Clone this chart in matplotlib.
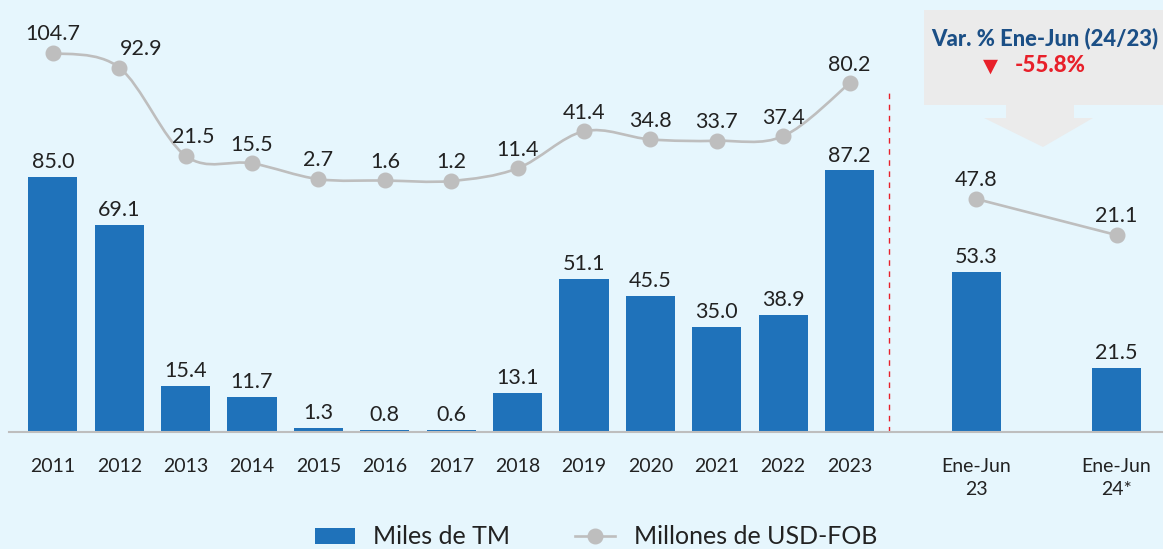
import matplotlib.pyplot as plt
import numpy as np
from matplotlib.path import Path
from matplotlib.patches import PathPatch, Rectangle, Polygon
from matplotlib.lines import Line2D

plt.rcParams["font.family"] = ["Lato", "DejaVu Sans"]

years = ["2011", "2012", "2013", "2014", "2015", "2016", "2017",
         "2018", "2019", "2020", "2021", "2022", "2023"]
tm_years = [85.0, 69.1, 15.4, 11.7, 1.3, 0.8, 0.6, 13.1, 51.1, 45.5, 35.0, 38.9, 87.2]
usd_years = [104.7, 92.9, 21.5, 15.5, 2.7, 1.6, 1.2, 11.4, 41.4, 34.8, 33.7, 37.4, 80.2]

periods = ["Ene-Jun\n23", "Ene-Jun\n24*"]
tm_periods = [53.3, 21.5]
usd_periods = [47.8, 21.1]

var_label = "Var. % Ene-Jun (24/23)"
var_value = "-55.8%"

BG = "#E6F6FD"
BLUE = "#1F72BA"
GREY = "#BEBEBE"
TXT = "#222222"

fig = plt.figure(figsize=(11.63, 5.49), dpi=100, facecolor=BG)
ax = fig.add_axes([9 / 1163, 117 / 549, 1 - 9 / 1163, 432 / 549])
ax.set_facecolor(BG)

x_years = np.arange(len(years), dtype=float)
x_periods = np.array([13.91, 16.02])
xlim = (-0.66, 16.72)

ax.bar(x_years, tm_years, width=0.74, color=BLUE, zorder=2)
ax.bar(x_periods, tm_periods, width=0.74, color=BLUE, zorder=2)
ax.set_xlim(*xlim)
ax.set_ylim(0, 144)
for x, v in zip(np.concatenate([x_years, x_periods]), tm_years + tm_periods):
    ax.text(x, v + 1.6, f"{v:.1f}", ha="center", va="bottom", fontsize=15.5, color=TXT)

ax.set_xticks(np.concatenate([x_years, x_periods]))
ax.set_xticklabels(years + periods, fontsize=14, color=TXT, linespacing=1.4)
ax.tick_params(axis="x", length=0, pad=19)
ax.set_yticks([])
for s in ["top", "right", "left"]:
    ax.spines[s].set_visible(False)
ax.spines["bottom"].set_color(GREY)
ax.spines["bottom"].set_linewidth(1.5)

ax.axvline(12.59, ymin=0, ymax=(432 - 88) / 432, color="#E8202A", lw=1.0,
           ls=(0, (4, 4)), zorder=1)

# line for annual USD values (smoothed)
ax2 = ax.twinx()
ax2.set_xlim(*xlim)
ax2.set_ylim(-201.7, 147.5)
ax2.axis("off")
pts = np.column_stack([x_years, usd_years])
verts = [pts[0]]
codes = [Path.MOVETO]
n = len(pts)
for i in range(n - 1):
    p0 = pts[max(i - 1, 0)]
    p1 = pts[i]
    p2 = pts[i + 1]
    p3 = pts[min(i + 2, n - 1)]
    c1 = p1 + (p2 - p0) / 6
    c2 = p2 - (p3 - p1) / 6
    verts += [c1, c2, p2]
    codes += [Path.CURVE4] * 3
ax2.add_patch(PathPatch(Path(verts, codes), fill=False, edgecolor=GREY, lw=1.9, zorder=3))
ax2.plot(x_years, usd_years, ls="none", marker="o", ms=10.5, color=GREY, zorder=4)
offsets = {1: 0.33, 2: 0.12}
for i, (x, v) in enumerate(zip(x_years, usd_years)):
    ax2.text(x + offsets.get(i, 0), v + 7, f"{v:.1f}", ha="center", va="bottom",
             fontsize=15.5, color=TXT)

# line for Ene-Jun USD values
ax3 = ax.twinx()
ax3.set_xlim(*xlim)
ax3.set_ylim(-124.8, 195.2)
ax3.axis("off")
ax3.plot(x_periods, usd_periods, color=GREY, lw=1.9, marker="o", ms=10.5, zorder=4)
for x, v in zip(x_periods, usd_periods):
    ax3.text(x, v + 7, f"{v:.1f}", ha="center", va="bottom", fontsize=15.5, color=TXT)

# variation box with arrow
W, H = 1163, 549
def fx(px):
    return px / W
def fy(py):
    return 1 - py / H

fig.patches.append(Rectangle((fx(924), fy(105)), fx(260), 95 / H, transform=fig.transFigure,
                             facecolor="#EBEBEB", edgecolor="none", zorder=0))
arrow = [(1006, 105), (1074, 105), (1074, 118), (1093, 118), (1043, 147),
         (984, 118), (1006, 118)]
fig.patches.append(Polygon([(fx(a), fy(b)) for a, b in arrow], closed=True,
                           transform=fig.transFigure, facecolor="#EBEBEB",
                           edgecolor="none", zorder=0))
fig.text(fx(931), fy(38), var_label, ha="left", va="center", fontsize=15.8,
         fontweight="black", color="#1B4F86")
fig.text(fx(990), fy(66), "▼", ha="center", va="center", fontsize=14,
         color="#E8202A", family=["DejaVu Sans"])
fig.text(fx(1015), fy(66), var_value, ha="left", va="center", fontsize=16,
         fontweight="black", color="#E8202A")

handles = [
    Rectangle((0, 0), 1, 1, facecolor=BLUE, edgecolor="none"),
    Line2D([], [], color=GREY, lw=1.9, marker="o", ms=10.5),
]
fig.legend(handles, ["Miles de TM", "Millones de USD-FOB"], loc="center",
           bbox_to_anchor=(fx(596), fy(537)), ncol=2, frameon=False, fontsize=18,
           handlelength=1.6, handleheight=0.6, columnspacing=2.6, handletextpad=0.75,
           labelcolor=TXT)

fig.savefig("out.png", dpi=100, facecolor=BG)
